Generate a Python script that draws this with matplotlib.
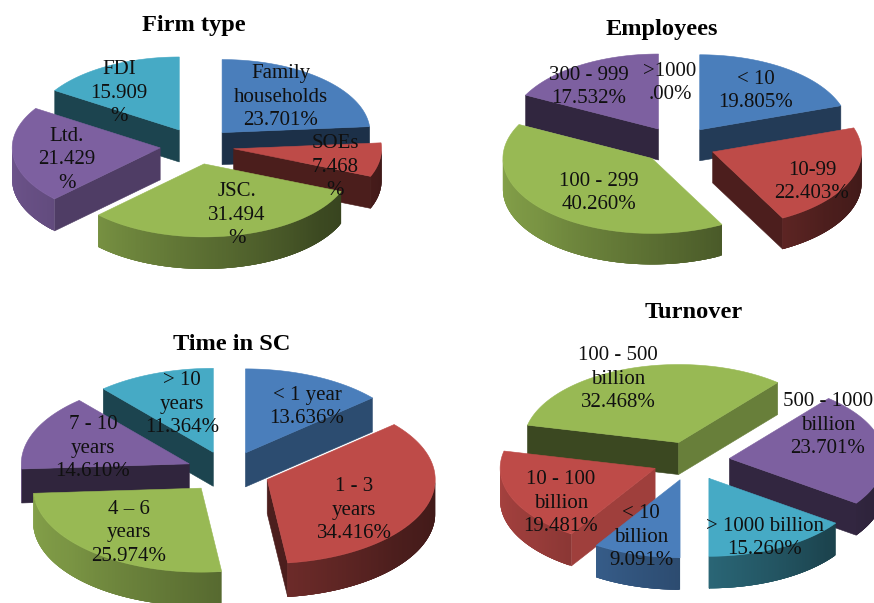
import matplotlib
matplotlib.use("Agg")
import matplotlib.pyplot as plt
from matplotlib.colors import to_rgb
from matplotlib.patches import Polygon
import numpy as np

plt.rcParams['font.family'] = ['Liberation Serif', 'DejaVu Sans']

# chart data, clockwise in drawing order
firm_labels = ["Family\nhouseholds\n23.701%", "SOEs\n7.468\n%", "JSC.\n31.494\n%", "Ltd.\n21.429\n%", "FDI\n15.909\n%"]
firm_values = [23.701, 7.468, 31.494, 21.429, 15.909]

emp_labels = ["< 10\n19.805%", "10-99\n22.403%", "100 - 299\n40.260%", "300 - 999\n17.532%", ">1000\n.00%"]
emp_values = [19.805, 22.403, 40.260, 17.532, 0.0]

time_labels = ["< 1 year\n13.636%", "1 - 3\nyears\n34.416%", "4 – 6\nyears\n25.974%", "7 - 10\nyears\n14.610%", "> 10\nyears\n11.364%"]
time_values = [13.636, 34.416, 25.974, 14.610, 11.364]

turn_labels = ["< 10\nbillion\n9.091%", "10 - 100\nbillion\n19.481%", "100 - 500\nbillion\n32.468%", "500 - 1000\nbillion\n23.701%", "> 1000 billion\n15.260%"]
turn_values = [9.091, 19.481, 32.468, 23.701, 15.260]

colors = ["#4a7ebb", "#be4b48", "#98b954", "#7d60a0", "#46aac5"]

# layout in pixels: center x, center y, radius x, radius y, depth
firm_box = (197, 146, 148, 73, 32)
emp_box = (678, 145, 149, 75, 31)
time_box = (228, 472, 168, 84, 34)
turn_box = (691, 461, 155, 78, 32)

firm_pos = [(281, 97), (335, 167), (237, 215), (67, 160), (119, 93)]
emp_pos = [(756, 91), (812, 182), (599, 193), (589, 87), (670, 83)]
time_pos = [(307, 407), (354, 510), (129, 533), (93, 448), (182, 404)]
turn_pos = [(641, 537), (561, 503), (618, 379), (828, 425), (765, 538)]


def shade(color, k):
    return tuple(c * k for c in to_rgb(color))


def radial_shade(n):
    return np.interp(n % 360, [90, 122, 130, 139, 176, 215, 270], [.8, .85, .68, .6, .38, .4, .4])


def outer_shade(t):
    return np.interp(t % 360, [90, 130, 180, 230, 270], [.33, .4, .6, .8, .88])


def draw_pie(ax, box, values, start, explode=0.25):
    cx, cy, rx, ry, depth = box
    total = sum(values)
    ends = start + np.cumsum(values) / total * 360
    starts = ends - np.array(values) / total * 360
    mids = np.radians((starts + ends) / 2)
    apex_x = cx + explode * rx * np.sin(mids)
    apex_y = cy - explode * ry * np.cos(mids)

    # back slices first so the front ones cover their walls
    for i in np.argsort(apex_y):
        if values[i] == 0:
            continue
        t = np.radians(np.linspace(starts[i], ends[i], 160))
        x = apex_x[i] + rx * np.sin(t)
        y = apex_y[i] - ry * np.cos(t)

        # flat walls along the two cuts
        for deg, n, ex, ey in [(starts[i], starts[i] - 90, x[0], y[0]), (ends[i], ends[i] + 90, x[-1], y[-1])]:
            if np.cos(np.radians(n)) < 0:
                pts = [(apex_x[i], apex_y[i]), (ex, ey), (ex, ey + depth), (apex_x[i], apex_y[i] + depth)]
                c = shade(colors[i], radial_shade(n))
                ax.add_patch(Polygon(pts, closed=True, fc=c, ec=c, lw=0.4))

        # rim, split in small strips for the shading, each one overlaps the next
        for j in range(len(t) - 1):
            if np.cos((t[j] + t[j + 1]) / 2) < 0:
                k = min(j + 4, len(t) - 1)
                while np.cos(t[k]) > 0:
                    k -= 1
                pts = [(x[j], y[j])] + [(x[m], y[m]) for m in range(j + 1, k + 1)]
                pts = pts + [(x[m], y[m] + depth) for m in range(k, j - 1, -1)]
                c = shade(colors[i], outer_shade(np.degrees(t[j])))
                ax.add_patch(Polygon(pts, closed=True, fc=c, ec='none', lw=0))

        top = np.column_stack([np.r_[apex_x[i], x], np.r_[apex_y[i], y]])
        ax.add_patch(Polygon(top, closed=True, fc=colors[i], ec=colors[i], lw=0.4))


def draw_labels(ax, labels, positions):
    for lab, (x, y) in zip(labels, positions):
        ax.text(x, y, lab, ha='center', va='center', fontsize=15, color='#101010', linespacing=1.33, clip_on=True)


fig = plt.figure(figsize=(8.74, 6.03), dpi=100)
ax = fig.add_axes([0, 0, 1, 1])
ax.set_xlim(0, 874)
ax.set_ylim(603, 0)
ax.axis('off')

draw_pie(ax, firm_box, firm_values, 0)
draw_pie(ax, emp_box, emp_values, 0)
draw_pie(ax, time_box, time_values, 0)
draw_pie(ax, turn_box, turn_values, 180)

draw_labels(ax, firm_labels, firm_pos)
draw_labels(ax, emp_labels, emp_pos)
draw_labels(ax, time_labels, time_pos)
draw_labels(ax, turn_labels, turn_pos)

ax.text(194, 26, "Firm type", ha='center', va='center', fontsize=17.6, fontweight='bold')
ax.text(662, 30, "Employees", ha='center', va='center', fontsize=17.6, fontweight='bold')
ax.text(232, 345, "Time in SC", ha='center', va='center', fontsize=17.6, fontweight='bold')
ax.text(694, 312, "Turnover", ha='center', va='center', fontsize=17.6, fontweight='bold')

fig.savefig("out.png", dpi=100)
